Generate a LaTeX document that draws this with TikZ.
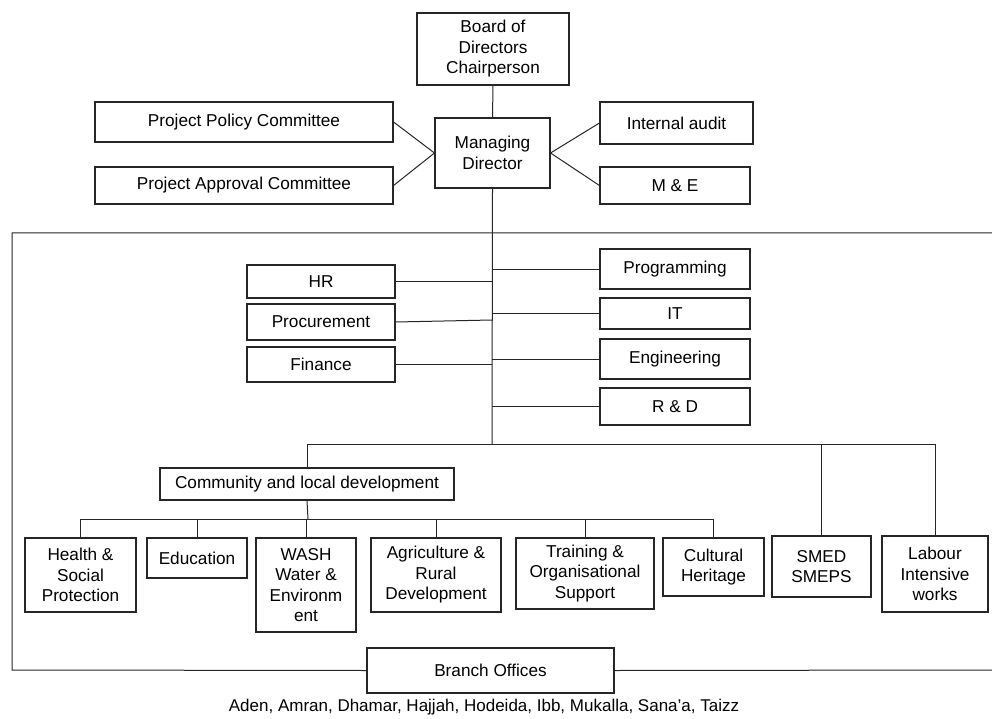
\documentclass[tikz,border=0pt]{standalone}
\usepackage{fontspec}
\setmainfont{Liberation Sans}
\begin{document}
\begin{tikzpicture}[x=1pt,y=-1pt,
  bx/.style={draw=black!85,line width=1.1pt,fill=white,align=center,inner sep=1pt,
    font=\fontsize{17.2}{20.5}\selectfont},
  ln/.style={draw=black!85,line width=1pt}]
\useasboundingbox (0,0) rectangle (992,719);
% frame
\node[bx,minimum width=247pt,minimum height=45pt] (branch) at (490.5,670.5) {Branch Offices};
\draw[ln] (992,233) -- (12,233) -- (12,670) -- (branch.west);
\draw[ln] (branch.east) -- (992,670);
% top
\node[bx,minimum width=152pt,minimum height=72pt] (board) at (493,49) {Board of\\Directors\\Chairperson};
\node[bx,minimum width=115pt,minimum height=70pt] (md) at (492.5,153) {Managing\\Director};
\node[bx,minimum width=298pt,minimum height=40pt] (ppc) at (244,122) {Project Policy Committee};
\node[bx,minimum width=298pt,minimum height=37pt] (pac) at (244,185.5) {Project Approval Committee};
\node[bx,minimum width=153pt,minimum height=42pt] (ia) at (676.5,123) {Internal audit};
\node[bx,minimum width=150pt,minimum height=37pt] (me) at (675,185.5) {M \& E};
% middle
\node[bx,minimum width=148pt,minimum height=33pt] (hr) at (321,281.5) {HR};
\node[bx,minimum width=148pt,minimum height=36pt] (proc) at (321,322) {Procurement};
\node[bx,minimum width=148pt,minimum height=35pt] (fin) at (321,364.5) {Finance};
\node[bx,minimum width=150pt,minimum height=40pt] (prog) at (675,269) {Programming};
\node[bx,minimum width=150pt,minimum height=31pt] (it) at (675,313.5) {IT};
\node[bx,minimum width=150pt,minimum height=40pt] (eng) at (675,359) {Engineering};
\node[bx,minimum width=150pt,minimum height=37pt] (rd) at (675,406.5) {R \& D};
\coordinate (bar) at (492,444);
% lower
\node[bx,minimum width=294pt,minimum height=32pt] (cld) at (307,484) {Community and local development};
\node[bx,minimum width=111pt,minimum height=74pt] (health) at (80.5,575) {Health \&\\Social\\Protection};
\node[bx,minimum width=100pt,minimum height=40pt] (edu) at (197,558) {Education};
\node[bx,minimum width=100pt,minimum height=94pt] (wash) at (306,585) {WASH\\Water \&\\Environm\\ent};
\node[bx,minimum width=130pt,minimum height=74pt] (agri) at (436,575) {Agriculture \&\\Rural\\Development};
\node[bx,minimum width=138pt,minimum height=71pt] (train) at (585,573.5) {Training \&\\Organisational\\Support};
\node[bx,minimum width=101pt,minimum height=58pt] (cult) at (713.5,567) {Cultural\\Heritage};
\node[bx,minimum width=99pt,minimum height=61pt] (smed) at (821.5,566.5) {SMED\\SMEPS};
\node[bx,minimum width=106pt,minimum height=76pt] (labour) at (935,574) {Labour\\Intensive\\works};
\coordinate (sub) at (308,519);
\node[font=\fontsize{17}{20}\selectfont,inner sep=0pt] (cities) at (484,707) {Aden, Amran, Dhamar, Hajjah, Hodeida, Ibb, Mukalla, Sana'a, Taizz};
% connectors
\draw[ln] (board.south) -- (md.north);
\draw[ln] (ppc.east) -- (md.west);
\draw[ln] (pac.east) -- (md.west);
\draw[ln] (ia.west) -- (md.east);
\draw[ln] (me.west) -- (md.east);
\draw[ln] (md.south) -- (bar);
\draw[ln] (hr.east) -- (hr.east -| bar);
\draw[ln] (proc.east) -- ([yshift=2pt]proc.east -| bar);
\draw[ln] (fin.east) -- (fin.east -| bar);
\draw[ln] (prog.west) -- (prog.west -| bar);
\draw[ln] (it.west) -- (it.west -| bar);
\draw[ln] (eng.west) -- (eng.west -| bar);
\draw[ln] (rd.west) -- (rd.west -| bar);
\draw[ln] (cld.north |- bar) -- (labour.north |- bar);
\draw[ln] (cld.north |- bar) -- (cld.north);
\draw[ln] (smed.north |- bar) -- (smed.north);
\draw[ln] (labour.north |- bar) -- (labour.north);
\draw[ln] (cld.south) -- (sub);
\draw[ln] (health.north |- sub) -- (cult.north |- sub);
\foreach \n in {health,edu,wash,agri,train,cult} \draw[ln] (\n.north |- sub) -- (\n.north);
\end{tikzpicture}
\end{document}
